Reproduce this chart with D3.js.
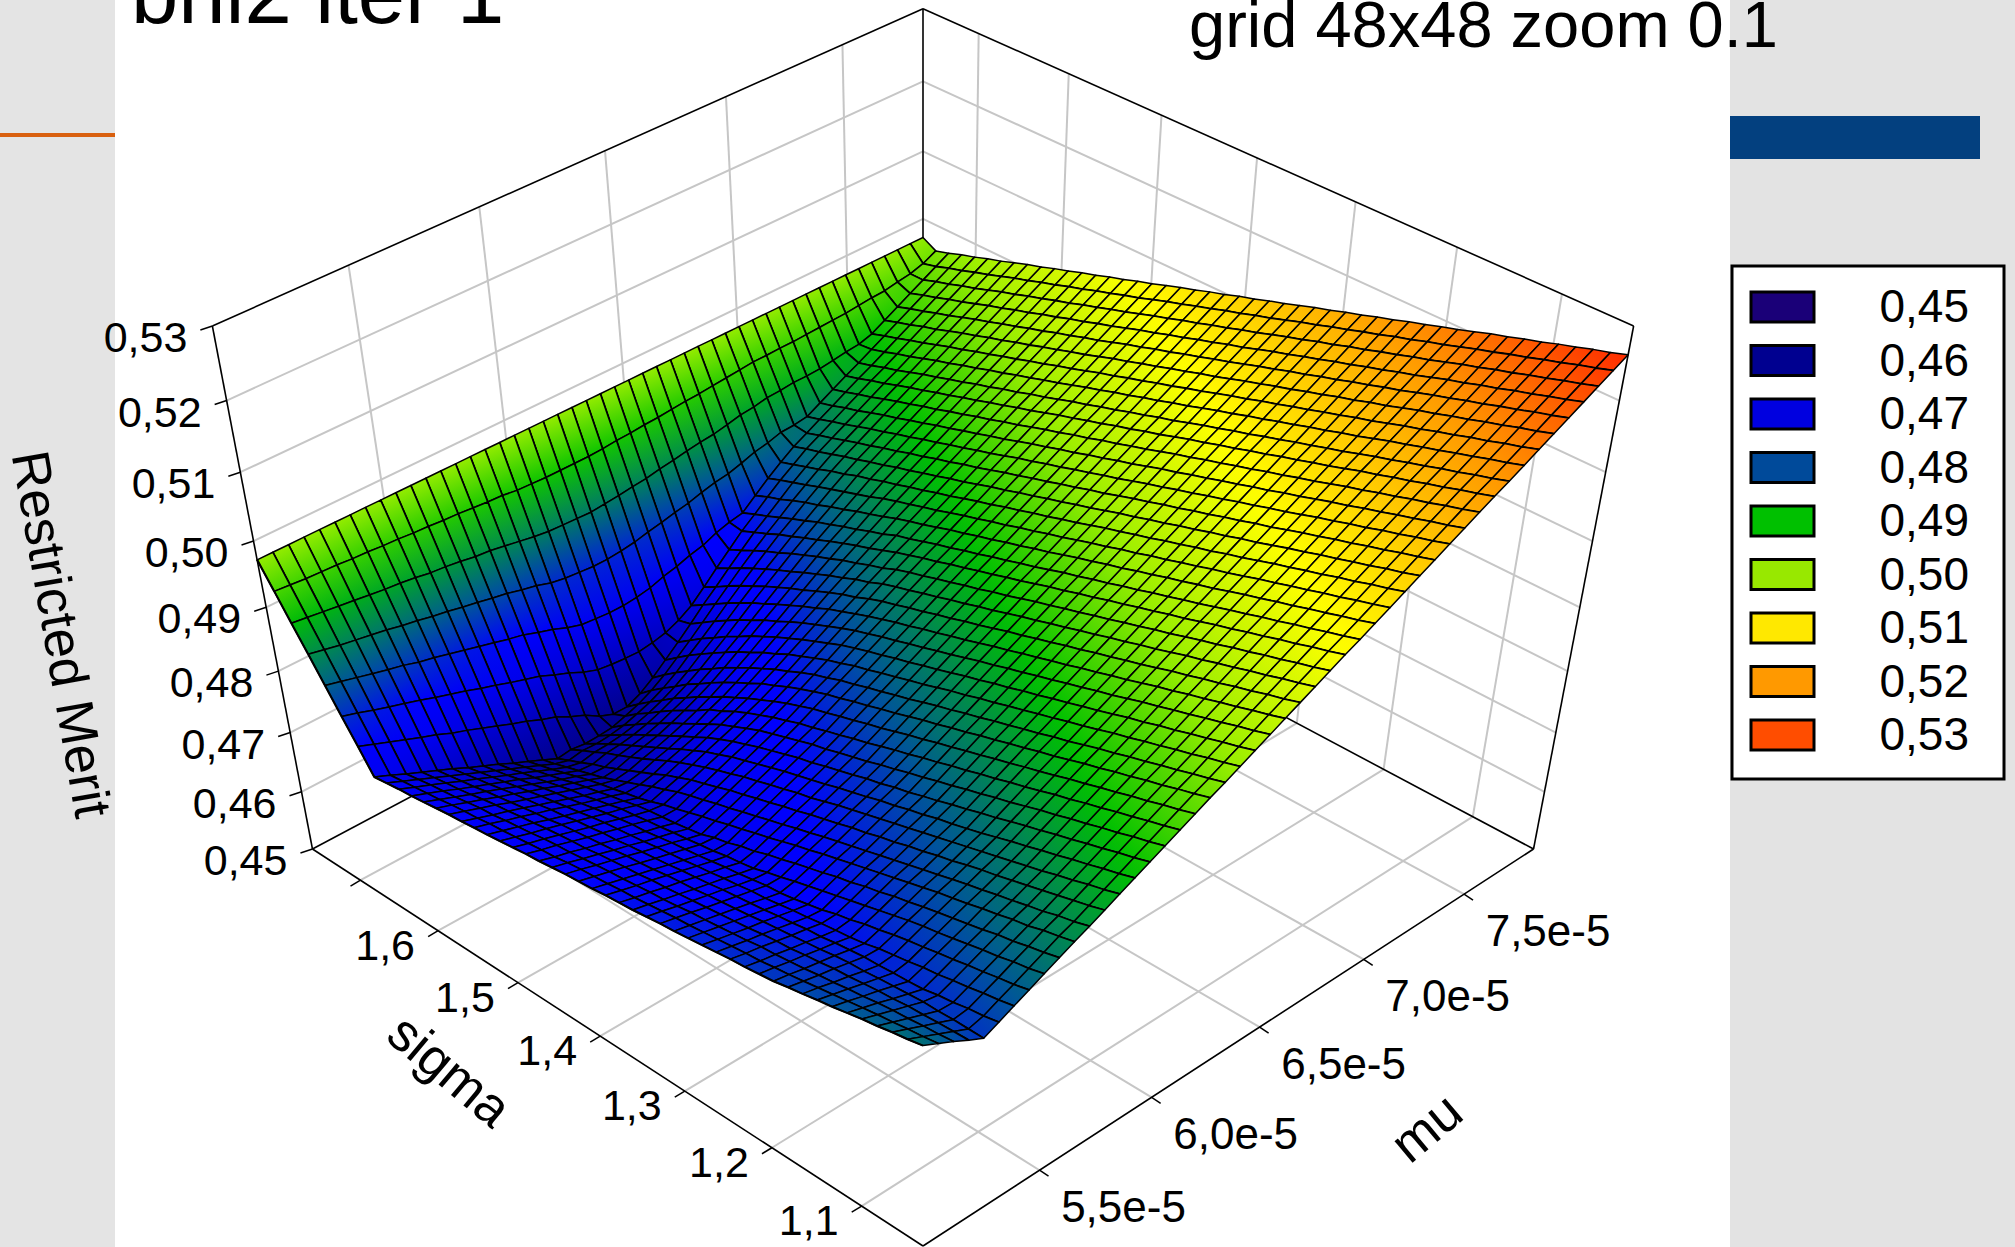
<!DOCTYPE html>
<html>
<head>
<meta charset="utf-8">
<script src="https://cdn.jsdelivr.net/npm/d3@7"></script>
<style>
  html, body { margin: 0; padding: 0; background: #fff; }
  svg { display: block; position: absolute; left: 0; top: 0; }
  text { font-family: "Liberation Sans", Arial, sans-serif; fill: #000; }
</style>
</head>
<body>
<div id="chart"></div>
<script>
// axis ticks
const sigmaTicks = [1.1, 1.2, 1.3, 1.4, 1.5, 1.6, 1.7];
const sigmaLabels = ["1,1", "1,2", "1,3", "1,4", "1,5", "1,6", ""];
const muTicks = [5.5e-5, 6.0e-5, 6.5e-5, 7.0e-5, 7.5e-5];
const muLabels = ["5,5e-5", "6,0e-5", "6,5e-5", "7,0e-5", "7,5e-5"];
const meritTicks = [0.45, 0.46, 0.47, 0.48, 0.49, 0.50, 0.51, 0.52, 0.53];
const meritLabels = ["0,45", "0,46", "0,47", "0,48", "0,49", "0,50", "0,51", "0,52", "0,53"];

const legendColors = ["#1a0078", "#000090", "#0000e0", "#004a9a", "#00c000", "#98e800", "#ffe800", "#ff9900", "#ff4d00"];
// the mesh colours sit a little off the legend levels, read from the surface itself
const surfaceLevels = [0.45, 0.46, 0.471, 0.4755, 0.4812, 0.4902, 0.4975, 0.5055, 0.517, 0.527];
const surfaceColors = ["#1a0078", "#000090", "#0000f0", "#0000ff", "#0050a0", "#00c000", "#99ee00", "#ffff00", "#ff9900", "#ff2200"];

// merit x 10000, one row per mu step, one column per sigma step (48 x 48)
const meritRows = [
[4842,4837,4833,4828,4824,4819,4814,4810,4805,4801,4796,4793,4790,4788,4785,4782,4779,4776,4774,4771,4768,4766,4764,4761,4759,4757,4754,4751,4749,4746,4743,4740,4738,4735,4733,4730,4727,4724,4722,4719,4716,4753,4789,4826,4863,4899,4936,4972],
[4830,4826,4823,4819,4816,4812,4808,4804,4800,4796,4792,4789,4785,4783,4780,4777,4774,4771,4769,4766,4763,4760,4758,4755,4753,4751,4748,4744,4742,4739,4736,4733,4731,4727,4725,4722,4718,4715,4712,4709,4706,4744,4782,4820,4858,4896,4934,4972],
[4818,4815,4813,4810,4808,4805,4801,4798,4794,4791,4787,4784,4781,4779,4775,4772,4769,4766,4764,4760,4757,4755,4752,4749,4747,4744,4741,4738,4736,4733,4729,4726,4723,4719,4717,4713,4709,4706,4703,4699,4695,4735,4774,4814,4853,4893,4932,4972],
[4805,4804,4803,4801,4800,4797,4795,4792,4789,4787,4783,4780,4776,4774,4771,4767,4764,4761,4758,4755,4752,4749,4747,4743,4741,4738,4735,4731,4729,4726,4723,4719,4716,4712,4709,4705,4700,4696,4693,4689,4685,4726,4767,4808,4849,4890,4931,4972],
[4793,4793,4793,4792,4792,4790,4788,4786,4783,4782,4779,4775,4772,4769,4766,4763,4759,4756,4753,4750,4746,4744,4741,4737,4734,4732,4728,4725,4722,4719,4716,4711,4708,4704,4700,4696,4692,4687,4683,4679,4675,4717,4760,4802,4845,4887,4930,4972],
[4804,4799,4796,4791,4788,4783,4781,4780,4778,4777,4774,4771,4767,4765,4761,4758,4754,4751,4748,4745,4741,4738,4735,4731,4728,4725,4722,4718,4716,4712,4709,4704,4701,4696,4692,4688,4683,4678,4674,4669,4665,4709,4753,4797,4841,4884,4928,4972],
[4815,4810,4806,4801,4797,4792,4789,4784,4780,4776,4770,4766,4763,4760,4756,4753,4749,4745,4743,4739,4736,4732,4729,4725,4722,4719,4715,4712,4709,4706,4702,4697,4693,4688,4684,4679,4674,4669,4664,4659,4654,4699,4745,4790,4836,4881,4927,4972],
[4826,4820,4816,4811,4807,4802,4798,4793,4789,4784,4778,4773,4766,4761,4754,4749,4744,4740,4738,4734,4730,4727,4723,4719,4716,4713,4709,4705,4703,4699,4695,4690,4685,4680,4676,4671,4665,4660,4654,4649,4644,4691,4738,4785,4832,4879,4925,4972],
[4837,4831,4827,4821,4817,4812,4807,4802,4798,4793,4787,4781,4775,4769,4763,4757,4751,4745,4738,4732,4725,4721,4718,4713,4710,4706,4703,4699,4696,4692,4689,4683,4678,4672,4668,4662,4656,4650,4645,4639,4634,4682,4731,4779,4827,4876,4924,4972],
[4848,4842,4837,4831,4827,4821,4816,4811,4806,4801,4795,4790,4783,4778,4771,4766,4759,4753,4747,4740,4734,4726,4721,4713,4708,4700,4696,4692,4689,4686,4682,4676,4671,4665,4660,4654,4647,4641,4635,4629,4623,4673,4723,4773,4823,4872,4922,4972],
[4859,4853,4848,4841,4837,4831,4826,4820,4815,4810,4804,4798,4792,4786,4780,4774,4768,4762,4755,4749,4742,4735,4729,4722,4716,4709,4703,4696,4689,4683,4675,4668,4663,4657,4652,4646,4639,4632,4625,4619,4613,4664,4716,4767,4818,4870,4921,4972],
[4869,4862,4857,4850,4845,4839,4834,4828,4823,4817,4811,4805,4799,4793,4787,4781,4775,4769,4763,4756,4750,4743,4737,4730,4724,4717,4711,4704,4698,4691,4682,4674,4664,4655,4646,4637,4630,4623,4616,4609,4603,4656,4708,4761,4814,4867,4919,4972],
[4880,4873,4867,4861,4855,4849,4843,4837,4832,4826,4819,4814,4807,4802,4795,4790,4783,4778,4771,4765,4759,4752,4746,4739,4733,4726,4720,4712,4705,4698,4689,4680,4669,4659,4649,4639,4629,4621,4611,4602,4592,4646,4701,4755,4809,4863,4918,4972],
[4891,4884,4878,4871,4865,4858,4852,4846,4840,4834,4828,4822,4816,4810,4804,4798,4792,4786,4780,4774,4767,4760,4755,4748,4742,4735,4729,4721,4714,4706,4697,4688,4678,4667,4656,4646,4636,4627,4616,4606,4595,4638,4694,4750,4805,4861,4916,4972],
[4902,4895,4889,4882,4876,4869,4863,4856,4850,4843,4836,4830,4824,4819,4812,4807,4800,4795,4788,4782,4776,4769,4763,4757,4751,4744,4737,4730,4723,4714,4706,4695,4685,4673,4662,4651,4640,4629,4617,4605,4592,4626,4684,4742,4799,4857,4914,4972],
[4913,4906,4900,4893,4887,4880,4874,4867,4861,4854,4847,4841,4834,4828,4821,4815,4808,4803,4796,4791,4784,4778,4772,4765,4760,4753,4746,4739,4731,4723,4714,4704,4692,4681,4669,4657,4645,4633,4620,4607,4593,4616,4675,4735,4794,4853,4913,4972],
[4924,4917,4911,4904,4898,4891,4885,4878,4872,4865,4858,4852,4845,4839,4832,4826,4819,4813,4806,4800,4793,4787,4781,4774,4769,4762,4755,4748,4741,4732,4722,4713,4701,4689,4677,4665,4652,4639,4625,4611,4595,4602,4664,4726,4787,4849,4910,4972],
[4935,4928,4922,4915,4909,4902,4896,4889,4883,4876,4869,4863,4856,4850,4843,4837,4830,4824,4817,4811,4804,4797,4791,4784,4778,4771,4765,4757,4750,4741,4732,4722,4710,4700,4686,4674,4661,4647,4632,4618,4602,4593,4656,4719,4783,4846,4909,4972],
[4946,4939,4933,4926,4920,4913,4907,4900,4894,4887,4880,4874,4867,4861,4854,4848,4841,4835,4828,4822,4815,4808,4802,4795,4789,4782,4776,4768,4760,4751,4741,4731,4720,4709,4696,4684,4670,4657,4641,4626,4610,4593,4653,4717,4781,4845,4908,4972],
[4957,4950,4944,4937,4931,4924,4918,4911,4905,4898,4891,4885,4878,4872,4865,4859,4852,4846,4839,4833,4826,4819,4813,4806,4800,4793,4787,4779,4771,4762,4752,4743,4731,4720,4708,4695,4681,4668,4652,4637,4621,4603,4651,4715,4779,4844,4908,4972],
[4967,4960,4954,4947,4941,4934,4928,4921,4915,4908,4901,4895,4888,4882,4875,4869,4862,4856,4849,4843,4836,4829,4823,4816,4810,4803,4797,4789,4782,4773,4763,4754,4743,4732,4720,4708,4694,4681,4666,4651,4635,4618,4650,4715,4779,4843,4908,4972],
[4978,4971,4965,4958,4952,4945,4939,4932,4926,4919,4912,4906,4899,4893,4886,4880,4873,4867,4860,4854,4847,4840,4834,4827,4821,4814,4808,4800,4793,4784,4775,4766,4755,4745,4733,4722,4709,4696,4682,4668,4652,4636,4653,4717,4781,4845,4908,4972],
[4989,4982,4976,4969,4963,4956,4950,4943,4937,4930,4923,4917,4910,4904,4897,4891,4884,4878,4871,4865,4858,4851,4845,4838,4832,4825,4819,4812,4805,4796,4787,4778,4768,4758,4747,4736,4723,4711,4697,4684,4669,4654,4658,4721,4784,4847,4909,4972],
[5000,4993,4987,4980,4974,4967,4961,4954,4948,4941,4934,4928,4921,4915,4908,4902,4895,4889,4882,4876,4869,4862,4856,4849,4843,4836,4830,4823,4816,4808,4799,4790,4781,4771,4760,4750,4738,4727,4714,4701,4687,4673,4667,4728,4789,4850,4911,4972],
[5011,5004,4998,4991,4985,4978,4972,4965,4959,4952,4945,4939,4932,4926,4919,4913,4906,4900,4893,4887,4880,4873,4867,4860,4854,4847,4841,4834,4827,4819,4811,4803,4793,4784,4774,4764,4753,4743,4731,4719,4706,4693,4680,4733,4793,4852,4912,4972],
[5022,5015,5009,5002,4996,4989,4983,4976,4970,4963,4956,4950,4943,4937,4930,4924,4917,4911,4904,4898,4891,4884,4878,4871,4865,4858,4852,4845,4839,4831,4822,4815,4806,4797,4787,4778,4768,4758,4747,4736,4724,4711,4699,4740,4798,4856,4914,4972],
[5033,5026,5020,5013,5007,5000,4994,4987,4981,4974,4967,4961,4954,4948,4941,4935,4928,4922,4915,4909,4902,4895,4889,4882,4876,4869,4863,4856,4850,4843,4834,4827,4818,4810,4801,4792,4782,4773,4763,4753,4742,4730,4719,4745,4802,4859,4915,4972],
[5044,5037,5031,5024,5018,5011,5005,4998,4992,4985,4978,4972,4965,4959,4952,4946,4939,4933,4926,4920,4913,4906,4900,4893,4887,4880,4874,4867,4861,4854,4845,4838,4830,4823,4814,4806,4797,4788,4778,4769,4759,4748,4738,4754,4808,4863,4917,4972],
[5055,5048,5042,5035,5029,5022,5016,5009,5003,4996,4989,4983,4976,4970,4963,4957,4950,4944,4937,4931,4924,4917,4911,4904,4898,4891,4885,4878,4872,4865,4858,4850,4842,4835,4827,4819,4810,4802,4793,4785,4775,4766,4757,4760,4813,4866,4919,4972],
[5065,5058,5052,5045,5039,5032,5026,5019,5013,5006,4999,4993,4986,4980,4973,4967,4960,4954,4947,4941,4934,4927,4921,4914,4908,4901,4895,4888,4882,4875,4868,4862,4853,4846,4838,4831,4823,4816,4807,4799,4790,4781,4773,4764,4816,4868,4920,4972],
[5076,5069,5063,5056,5050,5043,5037,5030,5024,5017,5010,5004,4997,4991,4984,4978,4971,4965,4958,4952,4945,4938,4932,4925,4919,4912,4906,4899,4893,4886,4879,4873,4866,4858,4851,4844,4836,4829,4821,4814,4806,4797,4790,4781,4822,4872,4922,4972],
[5087,5080,5074,5067,5061,5054,5048,5041,5035,5028,5021,5015,5008,5002,4995,4989,4982,4976,4969,4963,4956,4949,4943,4936,4930,4923,4917,4910,4904,4897,4890,4884,4877,4871,4864,4856,4849,4842,4835,4828,4820,4813,4806,4798,4829,4877,4924,4972],
[5098,5091,5085,5078,5072,5065,5059,5052,5046,5039,5032,5026,5019,5013,5006,5000,4993,4987,4980,4974,4967,4960,4954,4947,4941,4934,4928,4921,4915,4908,4901,4895,4888,4882,4875,4869,4862,4856,4848,4842,4834,4827,4820,4813,4833,4879,4926,4972],
[5109,5102,5096,5089,5083,5076,5070,5063,5057,5050,5043,5037,5030,5024,5017,5011,5004,4998,4991,4985,4978,4971,4965,4958,4952,4945,4939,4932,4926,4919,4912,4906,4899,4893,4886,4880,4873,4867,4860,4854,4847,4840,4834,4827,4839,4883,4928,4972],
[5120,5113,5107,5100,5094,5087,5081,5074,5068,5061,5054,5048,5041,5035,5028,5022,5015,5009,5002,4996,4989,4982,4976,4969,4963,4956,4950,4943,4937,4930,4923,4917,4910,4904,4897,4891,4884,4878,4871,4865,4858,4851,4845,4838,4840,4884,4928,4972],
[5131,5124,5118,5111,5105,5098,5092,5085,5079,5072,5065,5059,5052,5046,5039,5033,5026,5020,5013,5007,5000,4993,4987,4980,4974,4967,4961,4954,4948,4941,4934,4928,4921,4915,4908,4902,4895,4889,4882,4876,4869,4862,4856,4849,4843,4886,4929,4972],
[5142,5135,5129,5122,5116,5109,5103,5096,5090,5083,5076,5070,5063,5057,5050,5044,5037,5031,5024,5018,5011,5004,4998,4991,4985,4978,4972,4965,4959,4952,4945,4939,4932,4926,4919,4913,4906,4900,4893,4887,4880,4873,4867,4860,4854,4886,4929,4972],
[5153,5146,5140,5133,5127,5120,5114,5107,5101,5094,5087,5081,5074,5068,5061,5055,5048,5042,5035,5029,5022,5015,5009,5002,4996,4989,4983,4976,4970,4963,4956,4950,4943,4937,4930,4924,4917,4911,4904,4898,4891,4884,4878,4871,4865,4887,4930,4972],
[5164,5157,5151,5144,5138,5131,5125,5118,5112,5105,5098,5092,5085,5079,5072,5066,5059,5053,5046,5040,5033,5026,5020,5013,5007,5000,4994,4987,4981,4974,4967,4961,4954,4948,4941,4935,4928,4922,4915,4909,4902,4895,4889,4882,4876,4890,4931,4972],
[5174,5167,5161,5154,5148,5141,5135,5128,5122,5115,5108,5102,5095,5089,5082,5076,5069,5063,5056,5050,5043,5036,5030,5023,5017,5010,5004,4997,4991,4984,4977,4971,4964,4958,4951,4945,4938,4932,4925,4919,4912,4905,4899,4892,4886,4893,4932,4972],
[5185,5178,5172,5165,5159,5152,5146,5139,5133,5126,5119,5113,5106,5100,5093,5087,5080,5074,5067,5061,5054,5047,5041,5034,5028,5021,5015,5008,5002,4995,4988,4982,4975,4969,4962,4956,4949,4943,4936,4930,4923,4916,4910,4903,4897,4895,4933,4972],
[5196,5189,5183,5176,5170,5163,5157,5150,5144,5137,5130,5124,5117,5111,5104,5098,5091,5085,5078,5072,5065,5058,5052,5045,5039,5032,5026,5019,5013,5006,4999,4993,4986,4980,4973,4967,4960,4954,4947,4941,4934,4927,4921,4914,4908,4901,4935,4972],
[5207,5200,5194,5187,5181,5174,5168,5161,5155,5148,5141,5135,5128,5122,5115,5109,5102,5096,5089,5083,5076,5069,5063,5056,5050,5043,5037,5030,5024,5017,5010,5004,4997,4991,4984,4978,4971,4965,4958,4952,4945,4938,4932,4925,4919,4912,4937,4972],
[5218,5211,5205,5198,5192,5185,5179,5172,5166,5159,5152,5146,5139,5133,5126,5120,5113,5107,5100,5094,5087,5080,5074,5067,5061,5054,5048,5041,5035,5028,5021,5015,5008,5002,4995,4989,4982,4976,4969,4963,4956,4949,4943,4936,4930,4923,4938,4972],
[5229,5222,5216,5209,5203,5196,5190,5183,5177,5170,5163,5157,5150,5144,5137,5131,5124,5118,5111,5105,5098,5091,5085,5078,5072,5065,5059,5052,5046,5039,5032,5026,5019,5013,5006,5000,4993,4987,4980,4974,4967,4960,4954,4947,4941,4934,4942,4972],
[5240,5233,5227,5220,5214,5207,5201,5194,5188,5181,5174,5168,5161,5155,5148,5142,5135,5129,5122,5116,5109,5102,5096,5089,5083,5076,5070,5063,5057,5050,5043,5037,5030,5024,5017,5011,5004,4998,4991,4985,4978,4971,4965,4958,4952,4945,4945,4972],
[5251,5244,5238,5231,5225,5218,5212,5205,5199,5192,5185,5179,5172,5166,5159,5153,5146,5140,5133,5127,5120,5113,5107,5100,5094,5087,5081,5074,5068,5061,5054,5048,5041,5035,5028,5022,5015,5009,5002,4996,4989,4982,4976,4969,4963,4956,4951,4972],
[5262,5255,5249,5242,5236,5229,5223,5216,5210,5203,5196,5190,5183,5177,5170,5164,5157,5151,5144,5138,5131,5124,5118,5111,5105,5098,5092,5085,5079,5072,5065,5059,5052,5046,5039,5033,5026,5020,5013,5007,5000,4993,4987,4980,4974,4967,4961,4972]
];

const width = 2015, height = 1247;

let svg = d3.select("#chart").append("svg")
    .attr("width", width)
    .attr("height", height);
let defs = svg.append("defs");

// slide background behind the plot
svg.append("rect").attr("x", 0).attr("y", 0).attr("width", 115).attr("height", height).attr("fill", "#e4e4e4");
svg.append("rect").attr("x", 1730).attr("y", 0).attr("width", 285).attr("height", height).attr("fill", "#e3e3e3");
svg.append("rect").attr("x", 0).attr("y", 133).attr("width", 115).attr("height", 4).attr("fill", "#d9600f");
svg.append("rect").attr("x", 1730).attr("y", 116).attr("width", 250).attr("height", 43).attr("fill", "#03407f");

// scales take data values to the unit box
let sigmaScale = d3.scaleLinear().domain([1.0334, 1.7633]).range([0, 1]);
let muScale = d3.scaleLinear().domain([5.0e-5, 7.857e-5]).range([0, 1]);
let meritScale = d3.scaleLinear().domain([0.45, 0.53]).range([0, 1]);
let indexScale = d3.scaleLinear().domain([0, 47]).range([0, 1]);
let colorScale = d3.scaleLinear().domain(surfaceLevels).range(surfaceColors).interpolate(d3.interpolateRgb).clamp(true);

// perspective of the box, fitted on its eight corners
function project(p, q, z) {
    let w = 1 + 0.1118 * (p + q) - 0.1566 * z;
    return [
        923 + 678.8 * (q - p) / w,
        (1246 - 302.1 * (p + q) - 632.5 * z) / w
    ];
}

function drawLine(a, b, color, sw) {
    svg.append("line")
        .attr("x1", a[0]).attr("y1", a[1])
        .attr("x2", b[0]).attr("y2", b[1])
        .attr("stroke", color)
        .attr("stroke-width", sw);
}

function midPoint(a, b) {
    return [(a.xy[0] + b.xy[0]) / 2, (a.xy[1] + b.xy[1]) / 2];
}

const gridColor = "#c6c6c6";

// grid on the two back walls and the floor
meritTicks.slice(1, -1).forEach(function(m) {
    let z = meritScale(m);
    drawLine(project(1, 0, z), project(1, 1, z), gridColor, 2);
    drawLine(project(0, 1, z), project(1, 1, z), gridColor, 2);
});
sigmaTicks.forEach(function(s) {
    let p = sigmaScale(s);
    drawLine(project(p, 1, 0), project(p, 1, 1), gridColor, 2);
    drawLine(project(p, 0, 0), project(p, 1, 0), gridColor, 2);
});
muTicks.forEach(function(m) {
    let q = muScale(m);
    drawLine(project(1, q, 0), project(1, q, 1), gridColor, 2);
    drawLine(project(0, q, 0), project(1, q, 0), gridColor, 2);
});

// box edges
[
    [[1, 0, 0], [1, 0, 1]], [[0, 1, 0], [0, 1, 1]], [[1, 1, 0], [1, 1, 1]],
    [[1, 0, 1], [1, 1, 1]], [[0, 1, 1], [1, 1, 1]],
    [[0, 0, 0], [1, 0, 0]], [[0, 0, 0], [0, 1, 0]],
    [[1, 0, 0], [1, 1, 0]], [[0, 1, 0], [1, 1, 0]]
].forEach(function(e) {
    drawLine(project(e[0][0], e[0][1], e[0][2]), project(e[1][0], e[1][1], e[1][2]), "#000", 1.6);
});

// surface, far cells first. Each cell is shaded along its steeper side
let surface = svg.append("g").attr("id", "surface");
for (let j = 46; j >= 0; j--) {
    for (let i = 46; i >= 0; i--) {
        let corners = [[i, j], [i + 1, j], [i + 1, j + 1], [i, j + 1]].map(function(c) {
            let merit = meritRows[c[1]][c[0]] / 10000;
            return { xy: project(indexScale(c[0]), indexScale(c[1]), meritScale(merit)), merit: merit };
        });
        let alongSigma = Math.abs(corners[1].merit + corners[2].merit - corners[0].merit - corners[3].merit);
        let alongMu = Math.abs(corners[2].merit + corners[3].merit - corners[0].merit - corners[1].merit);
        let e = alongSigma > alongMu
            ? [[corners[0], corners[3]], [corners[1], corners[2]]]
            : [[corners[0], corners[1]], [corners[3], corners[2]]];
        let a = midPoint(e[0][0], e[0][1]), b = midPoint(e[1][0], e[1][1]);
        let id = "cell-" + i + "-" + j;
        let grad = defs.append("linearGradient")
            .attr("id", id)
            .attr("gradientUnits", "userSpaceOnUse")
            .attr("x1", a[0]).attr("y1", a[1])
            .attr("x2", b[0]).attr("y2", b[1]);
        grad.append("stop").attr("offset", 0).attr("stop-color", colorScale((e[0][0].merit + e[0][1].merit) / 2));
        grad.append("stop").attr("offset", 1).attr("stop-color", colorScale((e[1][0].merit + e[1][1].merit) / 2));

        surface.append("path")
            .attr("d", "M" + corners.map(function(c) { return c.xy.join(","); }).join("L") + "Z")
            .attr("fill", "url(#" + id + ")")
            .attr("stroke", "#000")
            .attr("stroke-width", 1.5)
            .attr("stroke-linejoin", "round");
        // lines of constant mu come out heavier in the original
        surface.append("path")
            .attr("d", "M" + corners[0].xy.join(",") + "L" + corners[1].xy.join(","))
            .attr("fill", "none")
            .attr("stroke", "#000")
            .attr("stroke-width", 2.1);
    }
}

// ticks and labels
const axisFont = 43;

meritTicks.forEach(function(m, k) {
    let pt = project(1, 0, meritScale(m));
    drawLine(pt, [pt[0] - 12, pt[1] + 4], "#000", 1.5);
    svg.append("text")
        .attr("x", pt[0] - 25)
        .attr("y", pt[1] + 11)
        .attr("dy", "0.35em")
        .attr("text-anchor", "end")
        .attr("font-size", axisFont)
        .text(meritLabels[k]);
});

sigmaTicks.forEach(function(s, k) {
    let pt = project(sigmaScale(s), 0, 0);
    drawLine(pt, [pt[0] - 10, pt[1] + 6], "#000", 1.5);
    svg.append("text")
        .attr("x", pt[0] - 53)
        .attr("y", pt[1] + 14)
        .attr("dy", "0.35em")
        .attr("text-anchor", "middle")
        .attr("font-size", axisFont)
        .text(sigmaLabels[k]);
});

muTicks.forEach(function(m, k) {
    let pt = project(0, muScale(m), 0);
    drawLine(pt, [pt[0] + 9, pt[1] + 6], "#000", 1.5);
    svg.append("text")
        .attr("x", pt[0] + 84)
        .attr("y", pt[1] + 36)
        .attr("dy", "0.35em")
        .attr("text-anchor", "middle")
        .attr("font-size", 44)
        .text(muLabels[k]);
});

// axis titles
function axisTitle(txt, x, y, angle) {
    svg.append("text")
        .attr("transform", "translate(" + x + "," + y + ") rotate(" + angle + ")")
        .attr("dy", "0.35em")
        .attr("text-anchor", "middle")
        .attr("font-size", 53)
        .text(txt);
}
axisTitle("Restricted Merit", 62, 634, 80);
axisTitle("sigma", 450, 1070, 40);
axisTitle("mu", 1426, 1127, -40);

// titles, the first one runs off the top of the picture
svg.append("text").attr("x", 131).attr("y", 23).attr("font-size", 85).text("bnl2 iter 1");
svg.append("text").attr("x", 1189).attr("y", 47).attr("font-size", 65).text("grid 48x48 zoom 0.1");

// legend
let legend = svg.append("g").attr("id", "legend");
legend.append("rect")
    .attr("x", 1732).attr("y", 266)
    .attr("width", 272).attr("height", 513)
    .attr("fill", "#fff")
    .attr("stroke", "#000")
    .attr("stroke-width", 3);

let legendY = d3.scaleLinear().domain([0, 8]).range([307, 735]);

legendColors.forEach(function(c, k) {
    legend.append("rect")
        .attr("x", 1751).attr("y", legendY(k) - 15)
        .attr("width", 63).attr("height", 30)
        .attr("fill", c)
        .attr("stroke", "#000")
        .attr("stroke-width", 3);
    legend.append("text")
        .attr("x", 1969).attr("y", legendY(k) - 1)
        .attr("dy", "0.35em")
        .attr("text-anchor", "end")
        .attr("font-size", 46)
        .text(meritLabels[k]);
});
</script>
</body>
</html>
